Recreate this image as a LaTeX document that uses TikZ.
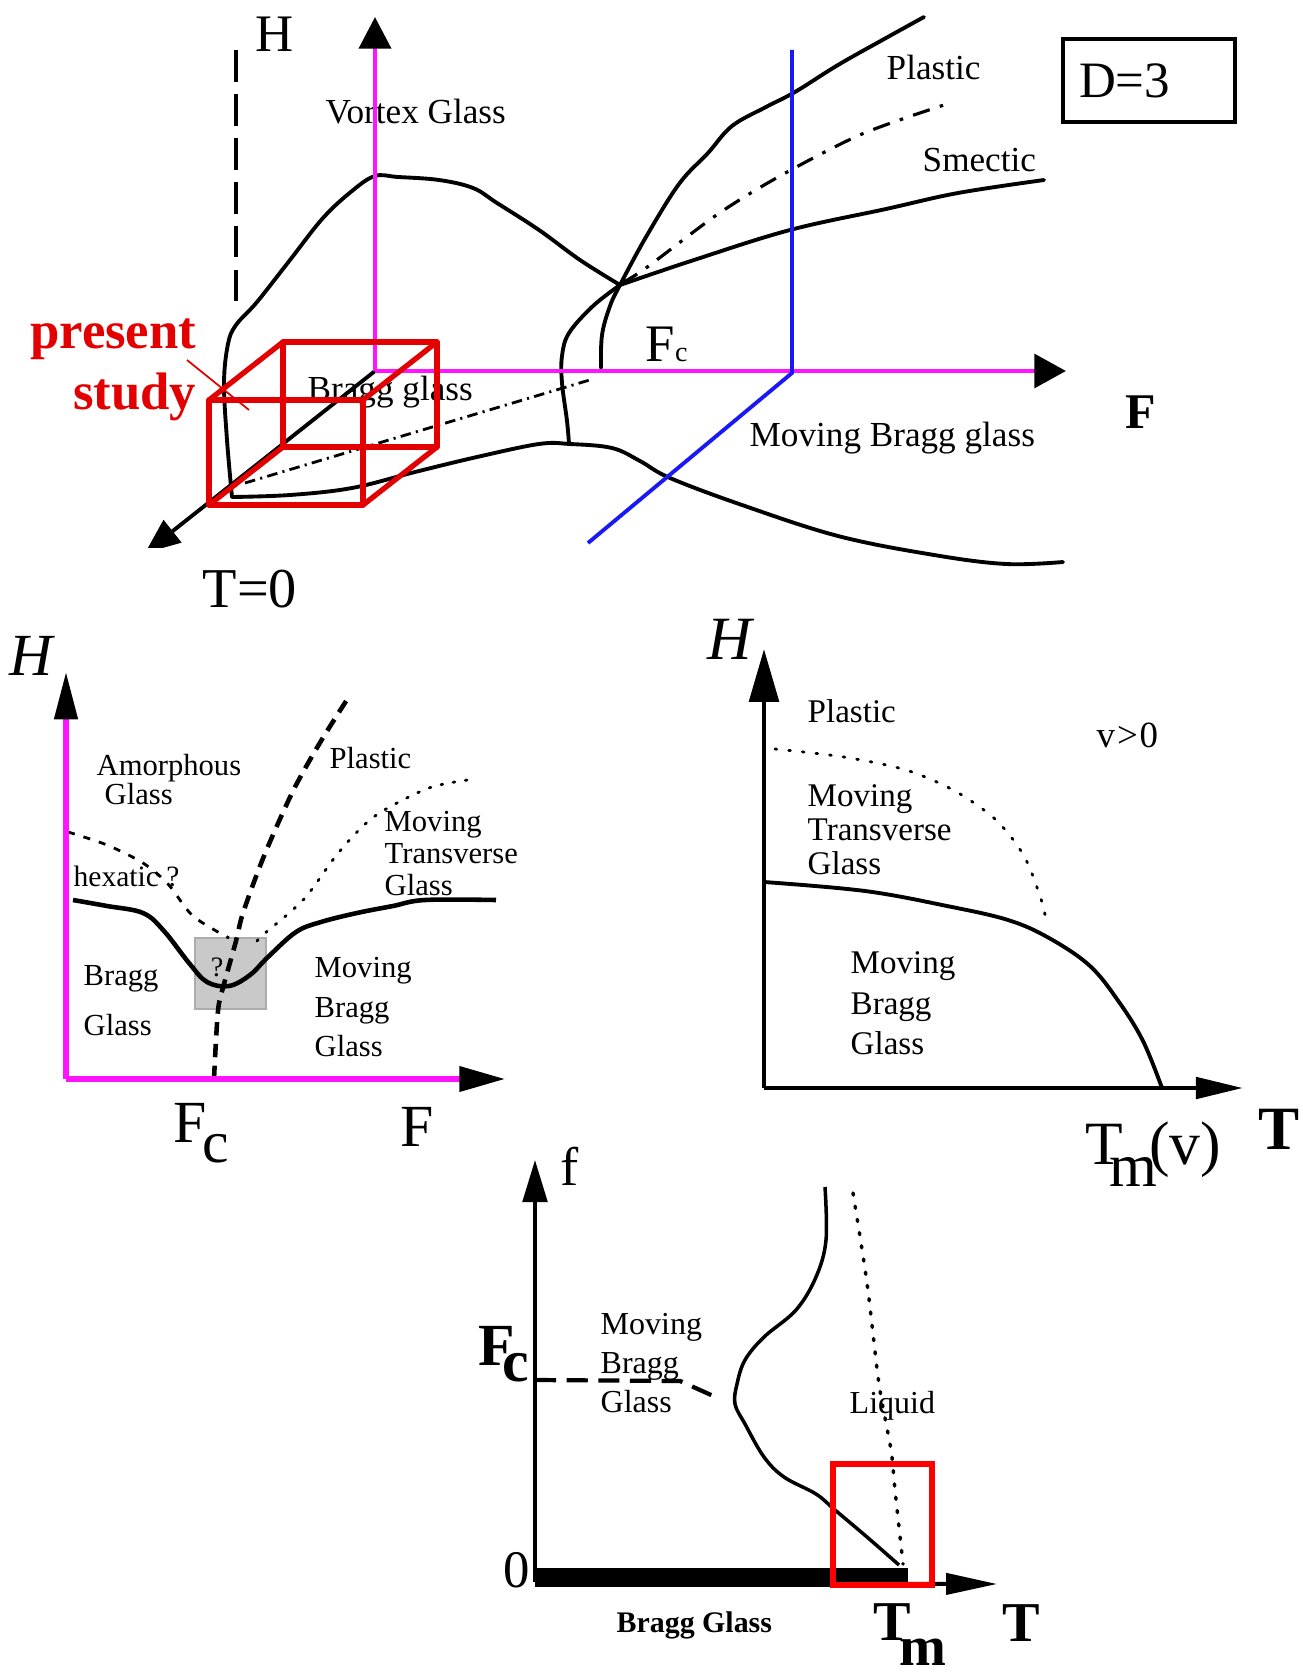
\documentclass[tikz,border=0pt]{standalone}
\usepackage{fontspec}
\setmainfont{Liberation Serif}
\usetikzlibrary{arrows.meta}
\definecolor{boxred}{RGB}{226,0,0}
\definecolor{axmag}{RGB}{255,20,255}
\definecolor{lineblue}{RGB}{25,25,245}

\begin{document}
\begin{tikzpicture}[x=0.01cm, y=-0.01cm,
    every node/.style={inner sep=0pt},
    lbl/.style={anchor=base west, font=\fontsize{10}{10}\selectfont},
    blk/.style={anchor=north west, align=left},
    phase/.style={line width=1.1pt, line join=round, line cap=round},
    cube/.style={boxred, line width=1.5pt, line join=round}]
  \useasboundingbox (0,0) rectangle (1302,1673);

  % ---------- top: 3D diagram at D=3 ----------
  \draw[line width=1.1pt, dash pattern=on 9pt off 3.5pt] (236,50) -- (236,310);
  % Bragg glass dome and its lower edge
  \draw[phase] plot[smooth, tension=0.6] coordinates {(232,497) (227,440) (224,383) (228,344)
        (236,325) (257,302) (290,260) (323,218) (352,191) (375,176) (398,177) (439,180)
        (473,188) (497,203) (539,230) (580,260) (620,285)};
  \draw[phase] plot[smooth, tension=0.6] coordinates {(232,497) (290,495) (352,488) (415,472)
        (477,457) (539,444) (570,444) (612,448) (640,461) (670,478) (742,505) (838,536)
        (934,555) (1006,564) (1063,562)};
  % lines leaving the junction
  \draw[phase] plot[smooth, tension=0.6] coordinates {(601,368) (602,335) (610,306) (620,285)
        (646,237) (679,184) (708,153) (732,126) (766,107) (795,92) (838,65) (886,38) (924,17)};
  \draw[phase] plot[smooth, tension=0.6] coordinates {(620,285) (694,260) (790,230) (886,209)
        (958,193) (1044,180)};
  \draw[phase] plot[smooth, tension=0.6] coordinates {(569,444) (567,421) (562,383) (562,356)
        (569,333) (593,306) (620,285)};
  \draw[line width=0.9pt, dash pattern=on 5pt off 3pt on 1pt off 3pt]
        plot[smooth] coordinates {(622,283) (646,268) (718,214) (780,176) (862,134) (950,103)};
  \draw[line width=0.8pt, dash pattern=on 3pt off 1.5pt on 0.6pt off 1.5pt] (245,483) -- (593,379);
  % T axis, cut at the lower edge
  \begin{scope}
    \clip (100,300) rectangle (400,547);
    \draw[line width=1.1pt, -{Triangle[length=10pt, width=8pt]}] (375,371) -- (145,553);
  \end{scope}

  \node[anchor=base west, font=\fontsize{15}{15}\selectfont] (hTop) at (255,52) {H};
  \node[lbl] (vortex) at (325,124) {Vortex Glass};
  \node[lbl] (braggTop) at (307,400) {Bragg glass};
  \node[anchor=base west, font=\fontsize{15}{15}\selectfont] (fcTop) at (645,362)
        {F{\fontsize{8}{8}\selectfont c}};
  \node[anchor=base west, font=\fontsize{14.2}{14.2}\selectfont\bfseries] (fTop) at (1125,429) {F};
  \node[lbl] (mbgTop) at (749,446) {Moving Bragg glass};
  \node[lbl] (plasticTop) at (886,80) {Plastic};
  \node[lbl] (smectic) at (922,172) {Smectic};
  \node[draw, line width=1.2pt, anchor=north west, minimum width=1.72cm, minimum height=0.83cm,
        text width=1.4cm, inner xsep=0.16cm, font=\fontsize{14.5}{14.5}\selectfont]
        (dim) at (1061,37) {D=3};
  \node[anchor=base west, font=\fontsize{16}{16}\selectfont] (tZero) at (202,607) {T=0};

  % magenta axes H and F
  \draw[axmag, line width=1.4pt, -{Triangle[length=9pt, width=9pt, color=black]}] (375,371) -- (375,17);
  \draw[axmag, line width=1.4pt, -{Triangle[length=9pt, width=9.5pt, color=black]}] (375,371) -- (1066,371);
  % blue cut
  \draw[lineblue, line width=1.1pt] (792,50) -- (792,373) -- (588,543);
  % red cube: region of the present study
  \draw[cube] (209,400) rectangle (363,505);
  \draw[cube] (283,342) rectangle (437,447);
  \foreach \p in {(209,400),(363,400),(363,505),(209,505)}
    \draw[cube] \p -- ++(74,-58);
  \draw[boxred, line width=0.5pt] (187,360) -- (249,410);
  \node[anchor=north east, align=right, text=boxred, font=\fontsize{15}{17.4}\selectfont\bfseries]
        (present) at (197,318) {present\\study};

  % ---------- middle left: H-F plane ----------
  \draw[fill=gray!42, draw=gray!65, line width=0.6pt] (195,938) rectangle (266,1009);
  \draw[line width=1.3pt, line join=round] plot[smooth, tension=0.6] coordinates {(73,900) (107,906)
        (143,913) (164,931) (189,963) (207,982) (229,986) (250,975) (268,957) (296,932)
        (321,922) (357,913) (393,906) (425,900) (496,900)};
  \draw[line width=1.3pt, dash pattern=on 3.8pt off 2.4pt] plot[smooth, tension=0.5] coordinates {(214,1079)
        (216,1040) (218,1011) (221,995) (236,941) (243,913) (264,856) (293,791) (321,741) (350,695)};
  \draw[line width=0.8pt, dash pattern=on 2pt off 2.6pt] plot[smooth] coordinates {(68,832) (107,845)
        (143,863) (168,884) (193,916) (229,938)};
  \draw[line width=0.8pt, dash pattern=on 0.5pt off 3pt, line cap=round] plot[smooth] coordinates {(257,941)
        (264,934) (304,899) (339,852) (375,816) (429,788) (475,779)};
  \draw[axmag, line width=1.5pt, -{Triangle[length=13.5pt, width=6.5pt, color=black]}] (66,1079) -- (66,672);
  \draw[axmag, line width=1.5pt, -{Triangle[length=13pt, width=7pt, color=black]}] (66,1079) -- (505,1079);

  \node[anchor=base west, font=\fontsize{17}{17}\selectfont\itshape] (hMid) at (9,675) {H};
  \node[blk, font=\fontsize{8.7}{8}\selectfont] (amorph) at (96,754) {Amorphous\\\hspace*{0.08cm}Glass};
  \node[anchor=base west, font=\fontsize{8.7}{8.7}\selectfont] (plasticMid) at (329,768) {Plastic};
  \node[blk, font=\fontsize{8.7}{9.1}\selectfont] (mtgMid) at (384,811) {Moving\\Transverse\\Glass};
  \node[anchor=base west, font=\fontsize{8.4}{8.4}\selectfont] (hexatic) at (73,886) {hexatic ?};
  \node[blk, font=\fontsize{8.7}{14.2}\selectfont] (bgMid) at (83,965) {Bragg\\Glass};
  \node[blk, font=\fontsize{8.7}{11.2}\selectfont] (mbgMid) at (314,957) {Moving\\Bragg\\Glass};
  \node[font=\fontsize{8}{8}\selectfont] (qMark) at (217,967) {?};
  \node[anchor=base west, font=\fontsize{17}{17}\selectfont] (fcMid) at (173,1142)
        {F\kern-0.07em\raisebox{-0.34em}{c}};
  \node[anchor=base west, font=\fontsize{17}{17}\selectfont] (fMid) at (400,1146) {F};

  % ---------- middle right: H-T plane at v>0 ----------
  \draw[line width=1.1pt, line join=round] plot[smooth, tension=0.6] coordinates {(764,882) (865,891)
        (947,906) (1008,920) (1049,938) (1090,966) (1119,1002) (1143,1041) (1162,1088)};
  \draw[line width=0.8pt, dash pattern=on 0.5pt off 3.4pt, line cap=round] plot[smooth] coordinates {(775,749)
        (844,757) (906,770) (955,791) (996,820) (1024,856) (1041,899) (1047,925)};
  \draw[line width=1.4pt, -{Triangle[length=15pt, width=8.3pt]}] (764,1088) -- (764,649);
  \draw[line width=1.4pt, -{Triangle[length=13.4pt, width=6pt]}] (764,1088) -- (1243,1088);

  \node[anchor=base west, font=\fontsize{17.5}{17.5}\selectfont\itshape] (hRight) at (707,659) {H};
  \node[anchor=base west, font=\fontsize{9.4}{9.4}\selectfont] (plasticRight) at (807,722) {Plastic};
  \node[anchor=base west, font=\fontsize{10.5}{10.5}\selectfont] (vPos) at (1096,747) {v{\kern0.05em}>{\kern0.05em}0};
  \node[blk, font=\fontsize{9.4}{9.7}\selectfont] (mtgRight) at (807,784) {Moving\\Transverse\\Glass};
  \node[blk, font=\fontsize{9.4}{11.5}\selectfont] (mbgRight) at (850,951) {Moving\\Bragg\\Glass};
  \node[anchor=base west, font=\fontsize{17.5}{17.5}\selectfont] (tmv) at (1085,1164)
        {T\kern-0.23em\rlap{\raisebox{-0.36em}{m}}\kern0.65em(v)};
  \node[anchor=base west, font=\fontsize{17.5}{17.5}\selectfont\bfseries] (tRight) at (1258,1149) {T};

  % ---------- bottom: f-T plane ----------
  \draw[line width=1pt, line join=round] plot[smooth, tension=0.6] coordinates {(825,1187) (826,1240)
        (816,1277) (796,1310) (764,1337) (745,1360) (737,1384) (735,1404) (745,1424) (764,1457)
        (784,1477) (816,1494) (835,1510) (867,1537) (899,1565)};
  \draw[line width=1.2pt, dash pattern=on 6pt off 3pt] (535,1380) -- (680,1381) -- (720,1399);
  \draw[line width=1pt, dash pattern=on 0.6pt off 3.2pt, line cap=round] plot[smooth] coordinates {(853,1193)
        (867,1283) (879,1384) (891,1450) (895,1490) (903,1564)};
  \draw[line width=5.4pt] (535,1577) -- (908,1577);
  \draw[line width=1.1pt, -{Triangle[length=12pt, width=7pt]}] (535,1582) -- (535,1160);
  \draw[line width=1.1pt, -{Triangle[length=14.5pt, width=6pt]}] (535,1583) -- (997,1584);
  \draw[red, line width=1.5pt] (833,1464) rectangle (932,1585);

  \node[anchor=base west, font=\fontsize{15.5}{15.5}\selectfont] (fBot) at (560,1185) {f};
  \node[anchor=base west, font=\fontsize{15}{15}\selectfont] (zero) at (503,1587) {0};
  \node[anchor=base west, font=\fontsize{17}{17}\selectfont\bfseries] (fcBot) at (478,1365)
        {F\kern-0.22em\raisebox{-0.28em}{c}};
  \node[blk, font=\fontsize{9.1}{11}\selectfont] (mbgBot) at (600,1313) {Moving\\Bragg\\Glass};
  \node[anchor=base west, font=\fontsize{9.1}{9.1}\selectfont] (liquid) at (849,1413) {Liquid};
  \node[anchor=base west, font=\fontsize{8.5}{8.5}\selectfont\bfseries] (bgBot) at (616,1632) {Bragg Glass};
  \node[anchor=base west, font=\fontsize{16}{16}\selectfont\bfseries] (tmBot) at (873,1640)
        {T\kern-0.21em\raisebox{-0.45em}{m}};
  \node[anchor=base west, font=\fontsize{16}{16}\selectfont\bfseries] (tBot) at (1002,1641) {T};
\end{tikzpicture}
\end{document}
